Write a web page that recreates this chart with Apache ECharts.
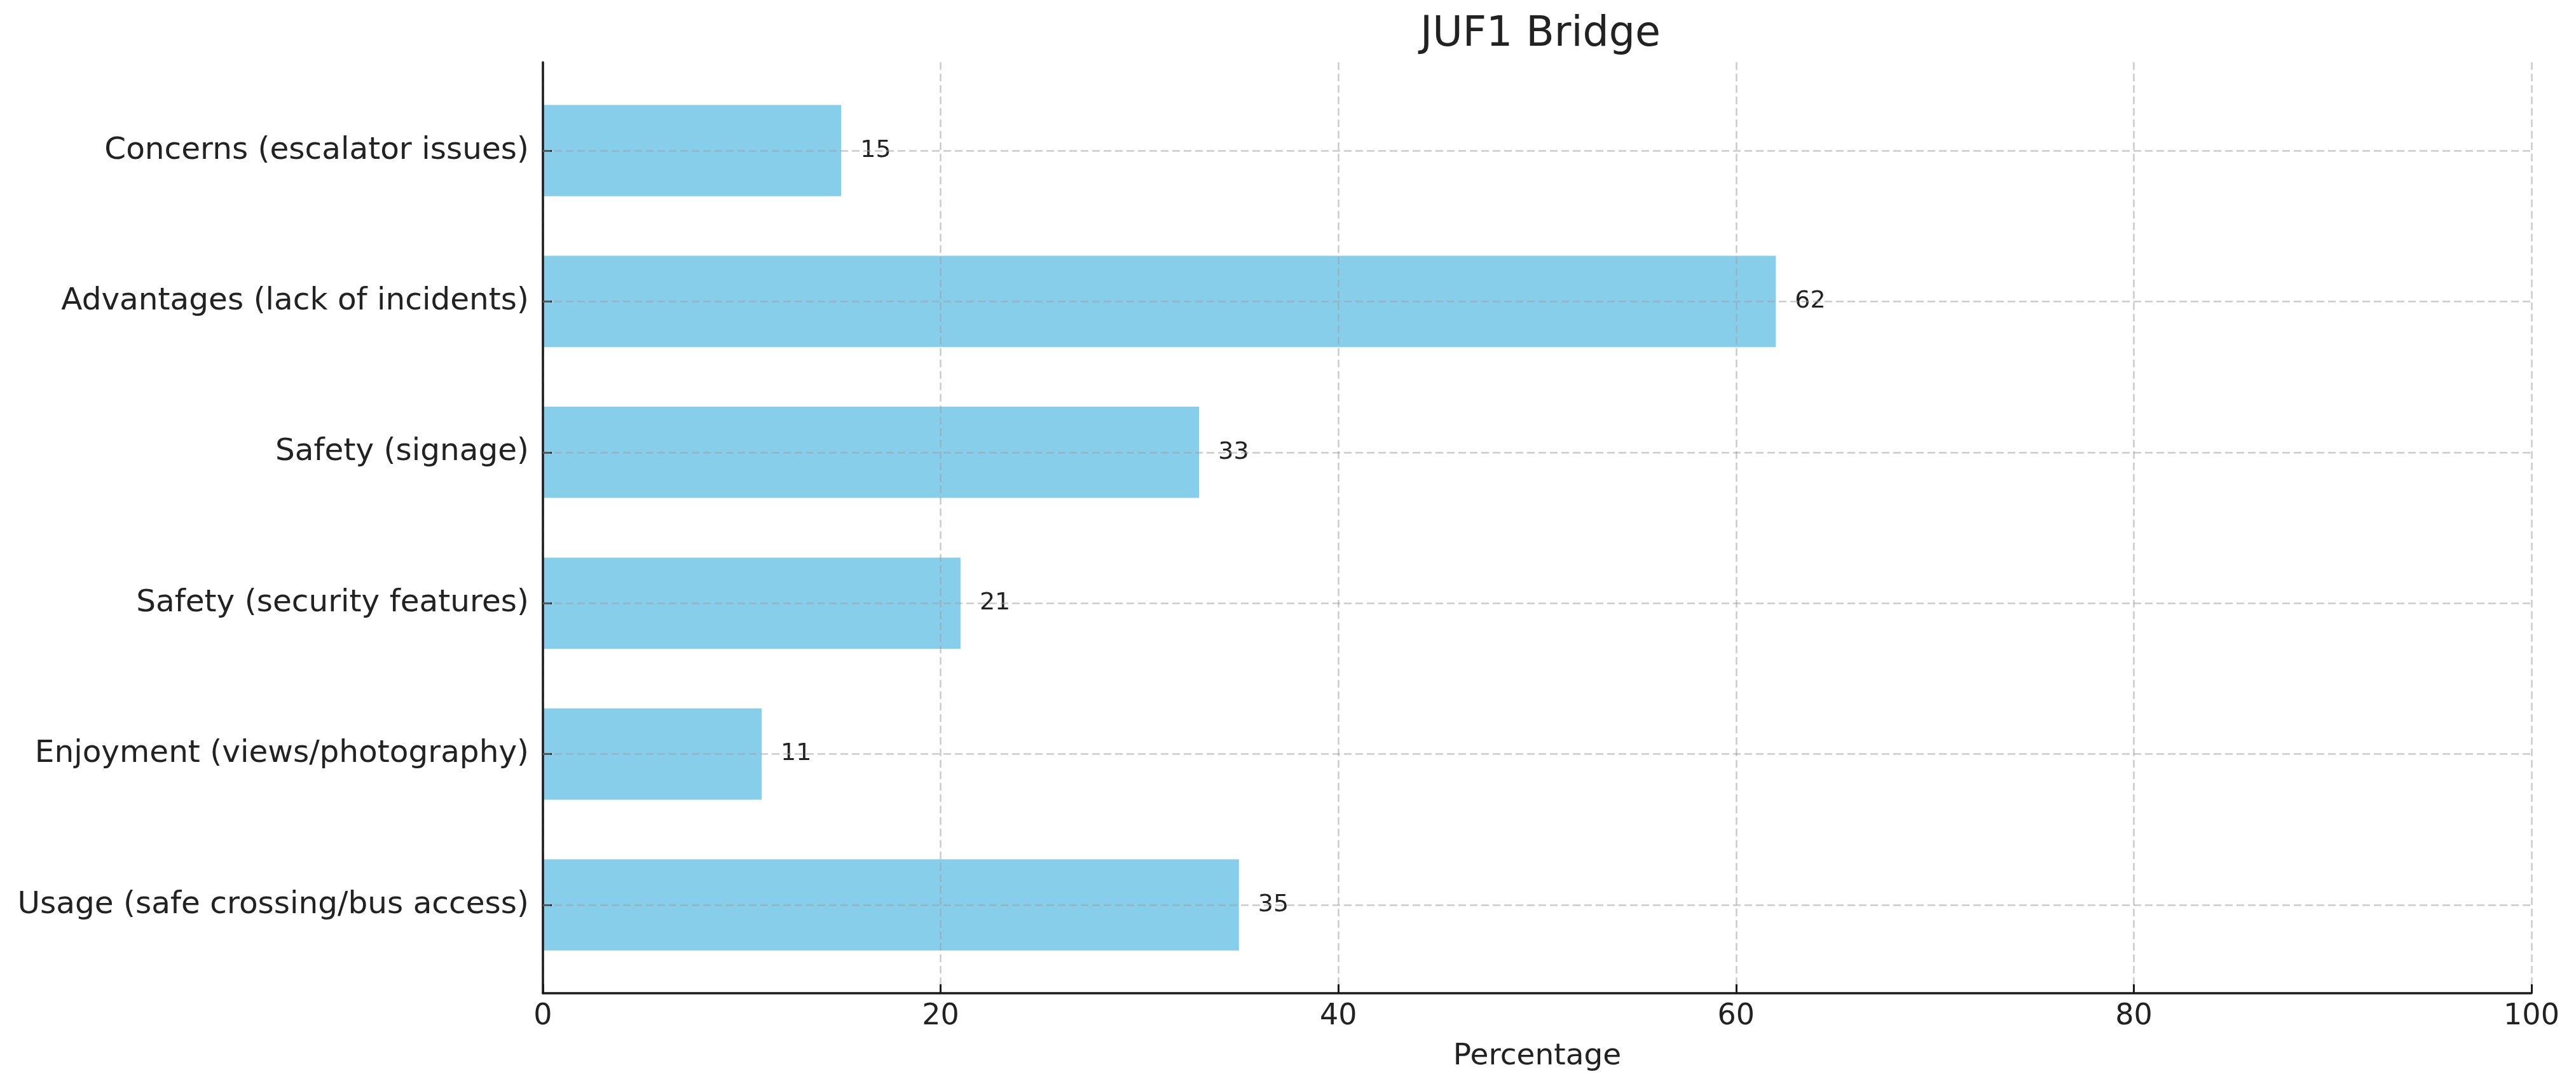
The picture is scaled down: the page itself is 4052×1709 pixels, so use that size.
<!DOCTYPE html>
<html>
<head>
<meta charset="utf-8">
<script src="https://cdn.jsdelivr.net/npm/echarts@6/dist/echarts.min.js"></script>
<style>
html,body{margin:0;padding:0;background:#fff;}
#chart{width:4052px;height:1709px;}
</style>
</head>
<body>
<div id="chart"></div>
<script>
const titleText = 'JUF1 Bridge';
const xAxisName = 'Percentage';
const categories = [
  'Concerns (escalator issues)',
  'Advantages (lack of incidents)',
  'Safety (signage)',
  'Safety (security features)',
  'Enjoyment (views/photography)',
  'Usage (safe crossing/bus access)'
];
const values = [15, 62, 33, 21, 11, 35];
const xTicks = [0, 20, 40, 60, 80, 100];

const FONT = 'DejaVu Sans';
const TXT = '#222222';
const GRID_LINE = {color: 'rgba(160,160,160,0.55)', width: 2.5, type: [12, 6]};

const chart = echarts.init(document.getElementById('chart'), null, {renderer: 'canvas'});
chart.setOption({
  backgroundColor: '#ffffff',
  animation: false,
  title: {
    text: titleText,
    left: 2418,
    textAlign: 'center',
    top: 18,
    textStyle: {fontFamily: FONT, fontSize: 65, fontWeight: 'normal', color: TXT}
  },
  grid: [
    {left: 854, right: 70, top: 98, bottom: 146, containLabel: false},
    {left: 854, right: 70, top: 118.3, bottom: 166.3, containLabel: false}
  ],
  xAxis: [
    {
      type: 'value', gridIndex: 0, min: xTicks[0], max: xTicks[xTicks.length - 1], interval: 20,
      z: 3,
      name: xAxisName, nameLocation: 'middle', nameGap: 76,
      nameTextStyle: {fontFamily: FONT, fontSize: 47, color: TXT},
      axisLine: {show: true, lineStyle: {color: '#1a1a1a', width: 3.5}},
      axisTick: {show: true, inside: true, length: 14, lineStyle: {color: '#1a1a1a', width: 3}},
      axisLabel: {fontFamily: FONT, fontSize: 46, color: TXT, margin: 14},
      splitLine: {show: true, lineStyle: GRID_LINE}
    },
    {
      type: 'value', gridIndex: 1, min: xTicks[0], max: xTicks[xTicks.length - 1], show: false
    }
  ],
  yAxis: [
    {
      type: 'value', gridIndex: 0, min: 0, max: 1, z: 3,
      axisLine: {show: true, onZero: false, lineStyle: {color: '#1a1a1a', width: 3.5}},
      axisTick: {show: false}, axisLabel: {show: false}, splitLine: {show: false}
    },
    {
      type: 'category', gridIndex: 1, data: categories, inverse: true, z: 3,
      axisLine: {show: false},
      axisTick: {show: true, inside: true, alignWithLabel: true, length: 14, lineStyle: {color: '#1a1a1a', width: 3}},
      axisLabel: {fontFamily: FONT, fontSize: 48.5, color: TXT, margin: 22},
      splitLine: {show: false}
    }
  ],
  series: [{
    type: 'bar',
    xAxisIndex: 1, yAxisIndex: 1,
    data: values,
    barWidth: '60.5%',
    itemStyle: {color: '#87CEEB'},
    label: {show: true, position: 'right', distance: 30, fontFamily: FONT, fontSize: 38, color: TXT},
    markLine: {
      silent: true, symbol: 'none', z: 5,
      label: {show: false},
      lineStyle: GRID_LINE,
      emphasis: {disabled: true},
      data: categories.map(c => ({yAxis: c}))
    }
  }]
});
</script>
</body>
</html>
